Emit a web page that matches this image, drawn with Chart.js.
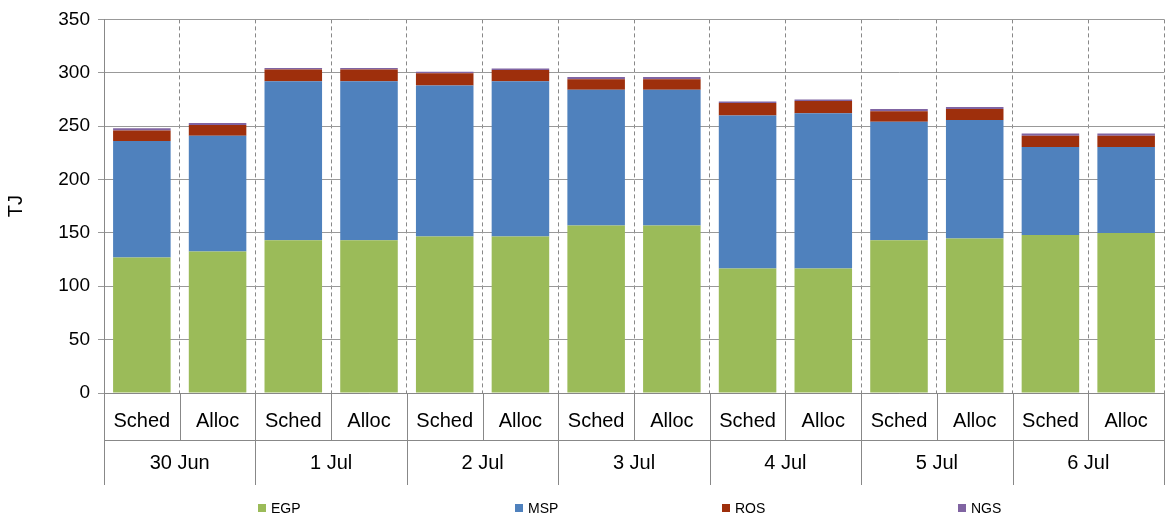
<!DOCTYPE html>
<html>
<head>
<script src="https://cdn.jsdelivr.net/npm/chart.js@4/dist/chart.umd.min.js"></script>
<style>body{margin:0;background:#fff}#wrap{width:1166px;height:519px}</style>
</head>
<body>
<div id="wrap"><canvas id="c"></canvas></div>
<script>
const dates = ['30 Jun', '1 Jul', '2 Jul', '3 Jul', '4 Jul', '5 Jul', '6 Jul'];
const labels = ['Sched', 'Alloc', 'Sched', 'Alloc', 'Sched', 'Alloc', 'Sched', 'Alloc', 'Sched', 'Alloc', 'Sched', 'Alloc', 'Sched', 'Alloc'];
const egp = [127, 132.5, 143, 143, 146.5, 146.5, 157, 157, 116.7, 116.7, 143, 144.7, 148, 150];
const msp = [109, 108.5, 149, 149, 141.5, 145.5, 127, 127, 143.3, 145.3, 111, 111, 82.5, 80.5];
const ros = [10, 10, 11, 11, 11.5, 10.5, 10, 10, 11.6, 11.5, 10, 10.3, 10.5, 10.5];
const ngs = [2, 2, 1.5, 1.5, 1.5, 1.5, 2, 2, 1.4, 1.5, 2, 2, 2, 2];
const legendX = [262, 519, 726, 962];

const groupPlugin = {
    id: 'groups',
    afterDraw(chart) {
        const ctx = chart.ctx, x = chart.scales.x, area = chart.chartArea;
        const step = x.getPixelForValue(1) - x.getPixelForValue(0);
        const bottom = area.bottom + 92;
        ctx.save();
        ctx.strokeStyle = '#888';
        ctx.lineWidth = 1;
        for (let i = 0; i <= dates.length; i++) {
            const px = Math.round(x.getPixelForValue(i * 2) - step / 2) + 0.5;
            ctx.beginPath();
            ctx.moveTo(px, area.bottom);
            ctx.lineTo(px, bottom);
            ctx.stroke();
        }
        for (let i = 0; i < labels.length; i++) {
            const px = Math.round(x.getPixelForValue(i) - step / 2) + 0.5;
            ctx.beginPath();
            ctx.moveTo(px, area.bottom);
            ctx.lineTo(px, area.bottom + 47);
            ctx.stroke();
        }
        ctx.beginPath();
        ctx.moveTo(x.getPixelForValue(0) - step / 2, area.bottom + 47.5);
        ctx.lineTo(area.right, area.bottom + 47.5);
        ctx.stroke();
        ctx.fillStyle = '#000';
        ctx.font = '20px "Liberation Sans", Arial';
        ctx.textAlign = 'center';
        ctx.textBaseline = 'middle';
        dates.forEach((d, i) => {
            ctx.fillText(d, x.getPixelForValue(i * 2) + step / 2, area.bottom + 70);
        });
        // legend
        ctx.font = '14px "Liberation Sans", Arial';
        ctx.textAlign = 'left';
        chart.data.datasets.forEach((d, i) => {
            ctx.fillStyle = d.backgroundColor;
            ctx.fillRect(legendX[i] - 4, 504, 8, 8);
            ctx.fillStyle = '#000';
            ctx.fillText(d.label, legendX[i] + 9, 509);
        });
        ctx.restore();
    }
};

const ds = (label, data, color) => ({
    label: label, data: data, backgroundColor: color,
    barPercentage: 0.76, categoryPercentage: 1
});

new Chart(document.getElementById('c'), {
    type: 'bar',
    data: {
        labels: labels,
        datasets: [
            ds('EGP', egp, '#9BBB59'),
            ds('MSP', msp, '#4F81BD'),
            ds('ROS', ros, '#9E2F0C'),
            ds('NGS', ngs, '#8064A2')
        ]
    },
    options: {
        responsive: true,
        maintainAspectRatio: false,
        animation: false,
        layout: { padding: { right: 2, top: 8, bottom: 34 } },
        plugins: {
            tooltip: { enabled: false },
            legend: { display: false }
        },
        scales: {
            x: {
                stacked: true,
                grid: { offset: true, color: '#888', drawTicks: false },
                border: { color: '#888', dash: [4, 3] },
                ticks: { color: '#000', padding: 16, font: { family: '"Liberation Sans", Arial', size: 20 } },
                afterFit(s) { s.height = 92; }
            },
            y: {
                stacked: true,
                min: 0, max: 350,
                ticks: { stepSize: 50, color: '#000', padding: 8, font: { family: '"Liberation Sans", Arial', size: 19 } },
                grid: { color: '#999', drawTicks: true, tickLength: 6 },
                border: { color: '#888' },
                title: { display: true, text: 'TJ', color: '#000', font: { family: '"Liberation Sans", Arial', size: 20 } },
                afterFit(s) { s.width = 104; }
            }
        }
    },
    plugins: [groupPlugin]
});
</script>
</body>
</html>
